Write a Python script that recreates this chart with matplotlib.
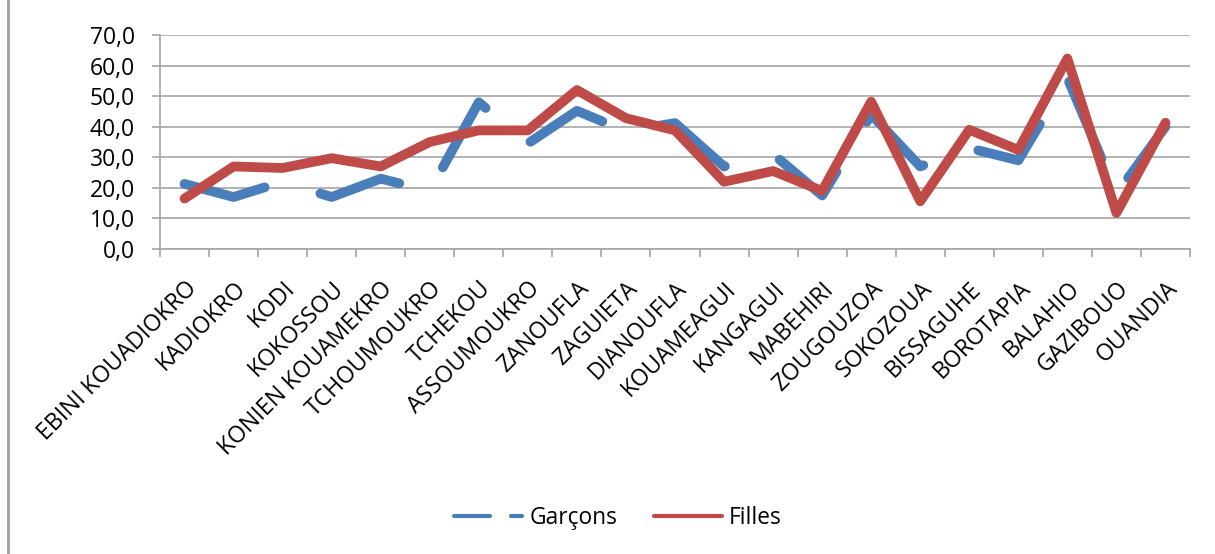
import matplotlib
matplotlib.use("Agg")
import matplotlib.pyplot as plt
from matplotlib.lines import Line2D
from matplotlib.ticker import FuncFormatter

categories = ["EBINI KOUADIOKRO", "KADIOKRO", "KODI", "KOKOSSOU", "KONIEN KOUAMEKRO",
              "TCHOUMOUKRO", "TCHEKOU", "ASSOUMOUKRO", "ZANOUFLA", "ZAGUIETA",
              "DIANOUFLA", "KOUAMEAGUI", "KANGAGUI", "MABEHIRI", "ZOUGOUZOA",
              "SOKOZOUA", "BISSAGUHE", "BOROTAPIA", "BALAHIO", "GAZIBOUO", "OUANDIA"]
garcons = [21.3, 17.0, 22.0, 17.0, 23.0, 19.0, 48.0, 34.5, 45.2, 38.5,
           41.2, 27.0, 31.0, 17.5, 44.0, 27.0, 33.0, 29.0, 56.0, 18.0, 40.0]
filles = [16.5, 27.0, 26.5, 29.7, 27.0, 35.0, 38.8, 38.8, 52.0, 42.8,
          38.8, 22.0, 25.5, 19.0, 48.2, 15.6, 39.0, 32.4, 62.3, 11.8, 41.3]
yticks = [0, 10, 20, 30, 40, 50, 60, 70]

plt.rcParams['font.family'] = ['Open Sans', 'DejaVu Sans']
plt.rcParams['lines.scale_dashes'] = False

BLUE = '#4A7EBB'
RED = '#BE4B48'
GRID = '#A6A6A6'

fig = plt.figure(figsize=(12.15, 5.54), dpi=100)
ax = fig.add_axes([160/1215, 1-249/554, (1190-160)/1215, (249-35)/554])

x = list(range(len(categories)))
ax.plot(x, garcons, color=BLUE, lw=7, dash_capstyle='round', dash_joinstyle='round',
        dashes=(60, 42), zorder=3)
ax.plot(x, filles, color=RED, lw=7, solid_capstyle='round', solid_joinstyle='round',
        zorder=4)

ax.set_xlim(-0.5, len(categories) - 0.5)
ax.set_ylim(0, 70)
ax.set_yticks(yticks)
ax.yaxis.set_major_formatter(FuncFormatter(lambda v, p: f"{v:.1f}".replace('.', ',')))
ax.yaxis.grid(True, color=GRID, lw=1.2)
ax.set_axisbelow(True)

ax.set_xticks(x)
ax.set_xticklabels(categories, rotation=45, ha='right', va='top', rotation_mode='anchor',
                   fontsize=16.6)
ax.set_xticks([i - 0.5 for i in range(len(categories) + 1)], minor=True)
ax.tick_params(axis='x', which='major', length=0, pad=20)
ax.tick_params(axis='x', which='minor', length=6, color=GRID, width=1.2)
ax.tick_params(axis='y', length=6, color=GRID, width=1.2, labelsize=16.5, pad=12)

for s in ['top', 'right']:
    ax.spines[s].set_visible(False)
for s in ['left', 'bottom']:
    ax.spines[s].set_color(GRID)
    ax.spines[s].set_linewidth(1.2)

# frame line at left edge
fig.add_artist(Line2D([8/1215, 8/1215], [0, 1], color='#A0A0A0', lw=2, transform=fig.transFigure))

h1 = Line2D([], [], color=BLUE, lw=3, dash_capstyle='round', dashes=(26, 15, 8, 15))
h2 = Line2D([], [], color=RED, lw=3, solid_capstyle='round')
fig.legend([h1, h2], ['Garçons', 'Filles'], loc='center', bbox_to_anchor=(618/1215, 1-518/554),
           ncol=2, frameon=False, fontsize=16.4, handlelength=3.0, columnspacing=1.6,
           handletextpad=0.3)

fig.savefig('out.png', dpi=100)
